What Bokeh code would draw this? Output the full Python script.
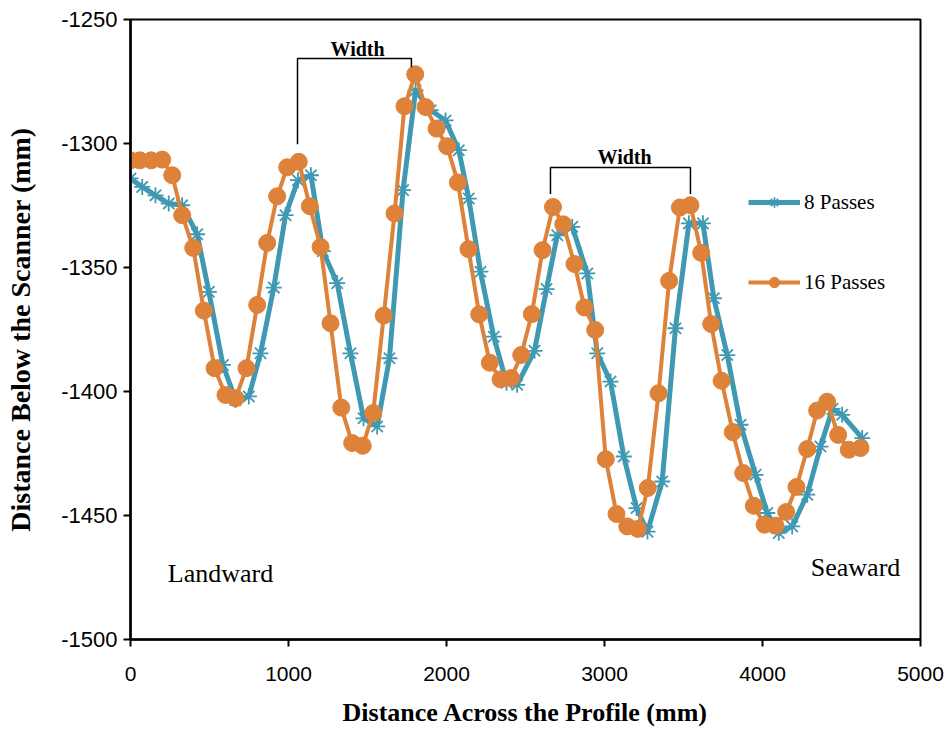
from bokeh.plotting import figure
from bokeh.models import Legend, LegendItem, Label, FixedTicker, Range1d, PrintfTickFormatter
from bokeh.embed import file_html
from bokeh.resources import INLINE

# ---- data ----
x16 = [0, 59, 131, 201, 264, 327, 397, 464, 532, 601, 665, 734, 802, 865, 928, 992,
       1065, 1135, 1203, 1266, 1334, 1403, 1470, 1536, 1603, 1671, 1734, 1802, 1867,
       1937, 2004, 2072, 2139, 2207, 2274, 2342, 2409, 2473, 2540, 2608, 2674, 2739,
       2810, 2873, 2941, 3008, 3076, 3144, 3211, 3274, 3342, 3409, 3477, 3544, 3612,
       3675, 3741, 3812, 3878, 3945, 4013, 4082, 4150, 4215, 4283, 4346, 4409, 4479,
       4546, 4620]
y16 = [-1306.8, -1306.8, -1306.8, -1306.5, -1312.8, -1328.9, -1342.1, -1367.4, -1390.6,
       -1401.4, -1402.7, -1390.6, -1365.1, -1340.1, -1321.3, -1309.6, -1307.4, -1325.3,
       -1341.7, -1372.5, -1406.5, -1420.8, -1421.9, -1408.7, -1369.4, -1328.2, -1285.0,
       -1272.1, -1285.3, -1294.0, -1301.1, -1315.7, -1342.6, -1368.9, -1388.4, -1395.1,
       -1394.6, -1385.3, -1368.8, -1343.0, -1325.6, -1332.6, -1348.6, -1366.1, -1375.2,
       -1427.3, -1449.4, -1454.4, -1455.4, -1438.9, -1400.7, -1355.4, -1325.8, -1324.9,
       -1344.1, -1372.8, -1395.7, -1416.4, -1432.9, -1446.1, -1453.7, -1454.1, -1448.6,
       -1438.5, -1423.2, -1407.7, -1404.1, -1417.5, -1423.5, -1422.8]

x8 = [0, 74, 158, 242, 327, 422, 496, 585, 665, 749, 823, 907, 981, 1060, 1142, 1218,
      1308, 1392, 1475, 1561, 1639, 1725, 1804, 1899, 1994, 2078, 2141, 2215, 2299,
      2380, 2447, 2557, 2633, 2701, 2796, 2891, 2954, 3038, 3122, 3203, 3272, 3365,
      3449, 3534, 3623, 3692, 3777, 3861, 3956, 4030, 4103, 4188, 4283, 4367, 4443,
      4504, 4631]
y8 = [-1314.1, -1317.5, -1320.9, -1324.2, -1324.9, -1336.6, -1359.8, -1389.3, -1403.4,
      -1402.0, -1384.6, -1358.1, -1328.9, -1314.8, -1312.8, -1343.4, -1356.3, -1384.6,
      -1410.8, -1414.1, -1386.6, -1318.8, -1278.6, -1286.6, -1290.7, -1302.7, -1322.2,
      -1351.7, -1377.9, -1396.5, -1397.3, -1383.6, -1358.7, -1337.0, -1333.6, -1352.4,
      -1384.6, -1396.0, -1426.2, -1447.0, -1456.5, -1436.3, -1374.5, -1332.2, -1332.2,
      -1362.4, -1385.3, -1413.4, -1433.6, -1449.0, -1457.0, -1454.4, -1441.6, -1422.2,
      -1407.0, -1409.4, -1418.8]

x_ticks = [0, 1000, 2000, 3000, 4000, 5000]
y_ticks = [-1500, -1450, -1400, -1350, -1300, -1250]
series_names = ["8 Passes", "16 Passes"]

BLUE = "#4099B3"
ORANGE = "#DE8139"
SERIF = "Liberation Serif"
SANS = "Liberation Sans"

p = figure(width=952, height=729, output_backend="svg", toolbar_location=None,
           x_range=Range1d(0, 5000), y_range=Range1d(-1500, -1250),
           min_border_left=130, min_border_right=32, min_border_top=19,
           min_border_bottom=89)
p.grid.visible = False
p.outline_line_color = "black"
p.outline_line_width = 2
p.background_fill_color = "white"
p.border_fill_color = "white"

for ax in (p.xaxis[0], p.yaxis[0]):
    ax.axis_line_width = 2.5
    ax.axis_line_color = "black"
    ax.major_tick_line_width = 2
    ax.major_tick_line_color = "black"
    ax.major_tick_out = 7
    ax.major_tick_in = 0
    ax.minor_tick_line_color = None
    ax.major_label_text_font = SANS
    ax.major_label_text_font_size = "21px"
    ax.major_label_text_color = "black"
    ax.axis_label_text_font = SERIF
    ax.axis_label_text_font_style = "bold"
    ax.axis_label_text_color = "black"
    ax.formatter = PrintfTickFormatter(format="%d")

p.yaxis.major_label_text_font_size = "22px"
p.xaxis.axis_label_text_font_size = "26px"
p.yaxis.axis_label_text_font_size = "28px"
p.xaxis.ticker = FixedTicker(ticks=x_ticks)
p.yaxis.ticker = FixedTicker(ticks=y_ticks)
p.xaxis.axis_label = "Distance Across the Profile (mm)"
p.yaxis.axis_label = "Distance Below the Scanner (mm)"
p.xaxis.major_label_standoff = 20
p.xaxis.axis_label_standoff = 14
p.yaxis.major_label_standoff = 6
p.yaxis.axis_label_standoff = 22

l8 = p.line(x8, y8, line_color=BLUE, line_width=5)
m8 = p.scatter(x8, y8, marker="asterisk", size=16, line_color=BLUE, line_width=1.8)
l16 = p.line(x16, y16, line_color=ORANGE, line_width=4)
m16 = p.scatter(x16, y16, marker="circle", size=17, fill_color=ORANGE,
                line_color=ORANGE)

legend = Legend(items=[LegendItem(label=series_names[0], renderers=[l8, m8]),
                       LegendItem(label=series_names[1], renderers=[l16, m16])],
                location=(618, 344), orientation="vertical")
legend.glyph_width = 52
legend.glyph_height = 26
legend.spacing = 54
legend.padding = 0
legend.margin = 0
legend.label_standoff = 4
legend.border_line_alpha = 0
legend.background_fill_alpha = 0
legend.label_text_font = SERIF
legend.label_text_font_size = "21px"
legend.label_text_color = "black"
p.add_layout(legend)

# width brackets
p.line([1057, 1057, 1778, 1778], [-1300.3, -1265.7, -1265.7, -1269.3],
       line_color="black", line_width=1.5)
p.line([2658, 2658, 3544, 3544], [-1320.4, -1309.7, -1309.7, -1320.4],
       line_color="black", line_width=1.5)

def add_text(x, y, t, size, bold=False):
    p.add_layout(Label(x=x, y=y, text=t, text_font=SERIF, text_font_size=size,
                       text_font_style="bold" if bold else "normal",
                       text_align="center", text_baseline="middle",
                       text_color="black"))

add_text(1437, -1261.7, "Width", "20px", True)
add_text(3127, -1305.6, "Width", "20px", True)
add_text(570, -1473.4, "Landward", "26px")
add_text(4589, -1471.0, "Seaward", "26px")

open("out.html", "w").write(file_html(p, INLINE))
